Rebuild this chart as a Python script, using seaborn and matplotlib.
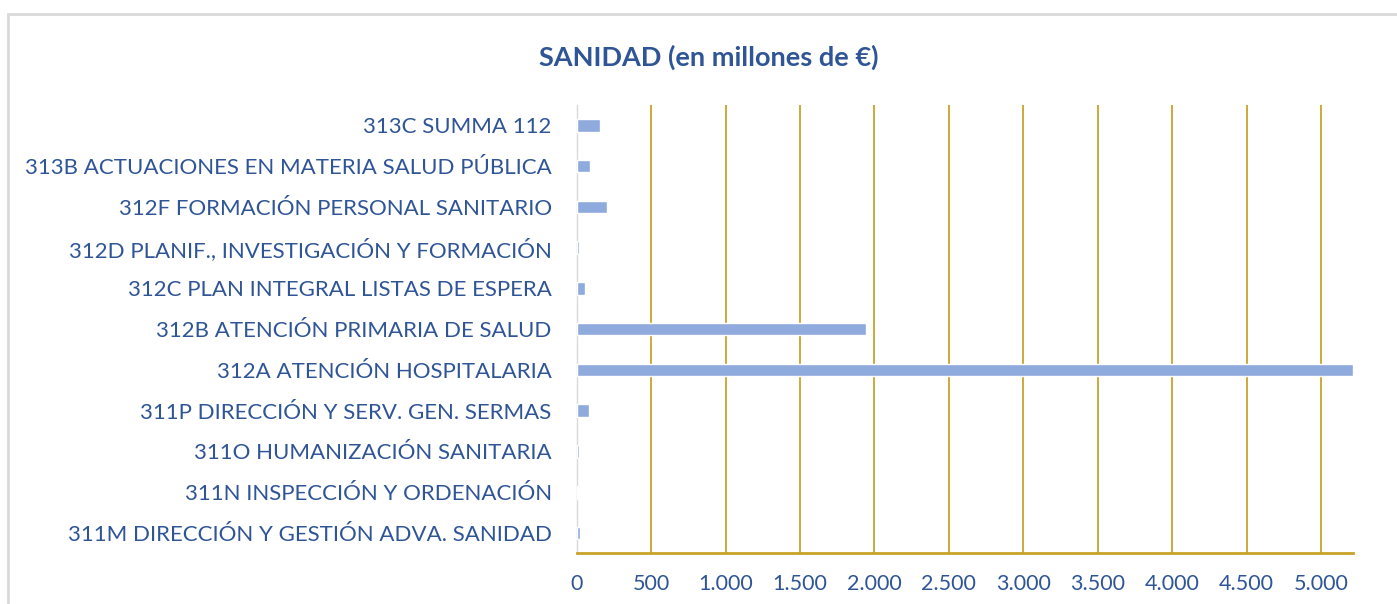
import matplotlib
matplotlib.use("Agg")
import matplotlib.pyplot as plt
import matplotlib.ticker as ticker
import matplotlib.patches as mpatches
import seaborn as sns
import pandas as pd

# =============================================================================
# DATA (millones de euros), listed top to bottom as drawn
# =============================================================================
programas = [
    "313C SUMMA 112",
    "313B ACTUACIONES EN MATERIA SALUD PÚBLICA",
    "312F FORMACIÓN PERSONAL SANITARIO",
    "312D PLANIF., INVESTIGACIÓN Y FORMACIÓN",
    "312C PLAN INTEGRAL LISTAS DE ESPERA",
    "312B ATENCIÓN PRIMARIA DE SALUD",
    "312A ATENCIÓN HOSPITALARIA",
    "311P DIRECCIÓN Y SERV. GEN. SERMAS",
    "311O HUMANIZACIÓN SANITARIA",
    "311N INSPECCIÓN Y ORDENACIÓN",
    "311M DIRECCIÓN Y GESTIÓN ADVA. SANIDAD",
]
importes = [159, 89, 201, 14, 54, 1941, 5215, 81, 14, 12, 20]
x_ticks = [0, 500, 1000, 1500, 2000, 2500, 3000, 3500, 4000, 4500, 5000]

df = pd.DataFrame({"programa": programas, "importe": importes})

TEXT_COLOR = "#2F5597"
BAR_COLOR = "#8FAADC"
GRID_COLOR = "#C9A227"

sns.set_theme(style="white")
plt.rcParams["font.family"] = ["Lato", "DejaVu Sans"]

fig = plt.figure(figsize=(13.97, 6.04), dpi=100)
ax = fig.add_axes([0.4128, 0.0839, 0.9683 - 0.4128, 0.8262 - 0.0839])

sns.barplot(data=df, x="importe", y="programa", order=programas,
            color=BAR_COLOR, saturation=1, width=0.31, orient="h", ax=ax,
            zorder=3)

ax.set_xlim(0, 5212)
ax.set_ylim(10.5, -0.5)
ax.set_xticks(x_ticks)
ax.xaxis.set_major_formatter(ticker.FuncFormatter(lambda v, p: f"{int(v):,}".replace(",", ".")))
ax.grid(axis="x", color=GRID_COLOR, linewidth=1.3, zorder=0)
ax.set_axisbelow(True)

for side in ["top", "right"]:
    ax.spines[side].set_visible(False)
ax.spines["bottom"].set_color(GRID_COLOR)
ax.spines["bottom"].set_linewidth(2)
ax.spines["left"].set_color("#D9D9D9")
ax.spines["left"].set_linewidth(1)
ax.spines["left"].set_zorder(1)

ax.set_xlabel("")
ax.set_ylabel("")
ax.tick_params(axis="both", length=0, labelsize=16, labelcolor=TEXT_COLOR)
ax.tick_params(axis="x", labelsize=15.5, pad=15)
ax.tick_params(axis="y", pad=18)

fig.text(0.5075, 0.905, "SANIDAD (en millones de €)", ha="center", va="center",
         fontsize=19.5, fontweight="bold", color=TEXT_COLOR)

# chart frame
fig.patches.append(mpatches.Rectangle((8 / 1397, -0.1), 1.1, 1 - 14 / 604 + 0.1,
                                      transform=fig.transFigure, fill=False,
                                      edgecolor="#D9D9D9", linewidth=2))

fig.savefig("out.png", dpi=100)
